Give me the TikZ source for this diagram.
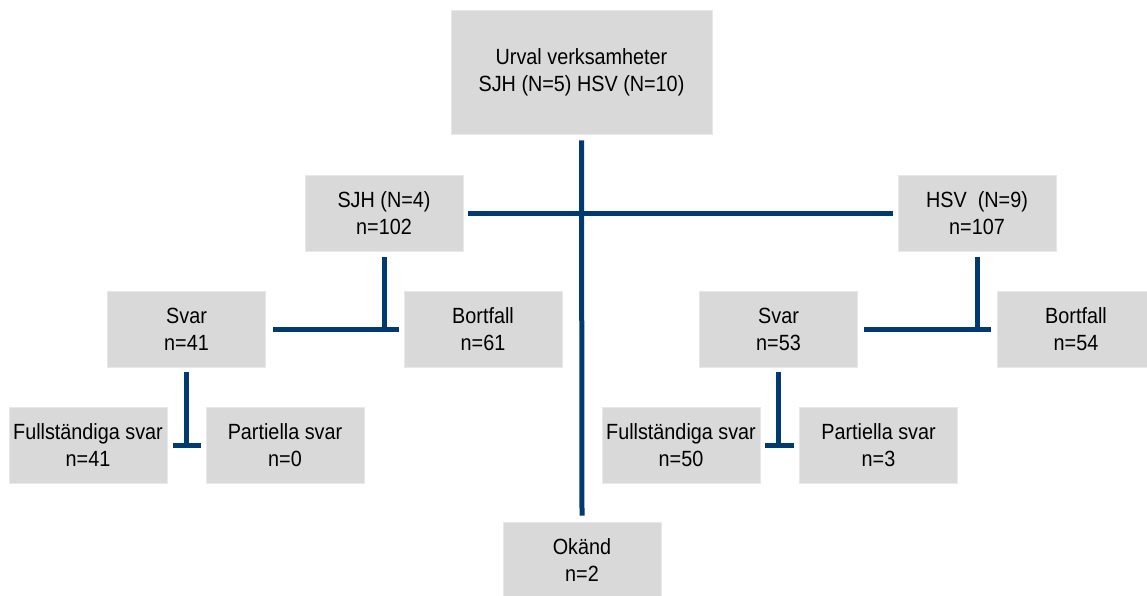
\documentclass[tikz,border=0pt]{standalone}
\usepackage{fontspec}
\setmainfont[FakeStretch=0.9]{Liberation Sans}
\usetikzlibrary{calc}
\definecolor{marin}{RGB}{0,58,112}
\definecolor{boksgraa}{RGB}{217,217,217}
\tikzset{
  boks/.style = {fill = boksgraa, draw = boksgraa!60!white, line width = .8pt,
    align = center, inner sep = 0pt, minimum width = 158pt, minimum height = 76pt,
    font = \fontsize{22}{27}\selectfont},
  linje/.style = {draw = marin, line width = 5pt}
}
\begin{document}
\begin{tikzpicture}[x = 1pt, y = -1pt]
  \useasboundingbox (0, 0) rectangle (1147, 595);
  \clip (0, 0) rectangle (1147, 595);
  % boksar
  \node[boks, minimum width = 261pt, minimum height = 124pt] (urval) at (581.5, 72) {Urval verksamheter\\SJH (N=5) HSV (N=10)};
  \node[boks] (sjh) at (384, 213) {SJH (N=4)\\n=102};
  \node[boks] (hsv) at (977, 213) {HSV\ \ (N=9)\\n=107};
  \node[boks] (svarS) at (186.5, 329) {Svar\\n=41};
  \node[boks] (bortS) at (483, 329) {Bortfall\\n=61};
  \node[boks] (svarH) at (778.5, 329) {Svar\\n=53};
  \node[boks] (bortH) at (1076, 329) {Bortfall\\n=54};
  \node[boks] (fullS) at (88, 445) {Fullständiga svar\\n=41};
  \node[boks] (partS) at (285, 445) {Partiella svar\\n=0};
  \node[boks] (fullH) at (681, 445) {Fullständiga svar\\n=50};
  \node[boks] (partH) at (878.5, 445) {Partiella svar\\n=3};
  \node[boks] (okand) at (582, 560) {Okänd\\n=2};
  % linjer
  \draw[linje] ([yshift = -6pt]urval.south) -- ([yshift = 6pt]okand.north);
  \draw[linje] ([xshift = 5pt]sjh.east) -- ([xshift = -5pt]hsv.west);
  \draw[linje] ([xshift = 7pt]svarS.east) -- ([xshift = -5pt]bortS.west);
  \draw[linje] ([yshift = -6pt]sjh.south) -- ($(sjh.south |- svarS.east) + (0, 2.5)$);
  \draw[linje] ([xshift = 6pt]svarH.east) -- ([xshift = -6pt]bortH.west);
  \draw[linje] ([yshift = -6pt]hsv.south) -- ($(hsv.south |- svarH.east) + (0, 2.5)$);
  \draw[linje] ([xshift = 6pt]fullS.east) -- ([xshift = -5pt]partS.west);
  \draw[linje] ([yshift = -5pt]svarS.south) -- ($(svarS.south |- fullS.east) + (0, 2.5)$);
  \draw[linje] ([xshift = 5pt]fullH.east) -- ([xshift = -5pt]partH.west);
  \draw[linje] ([yshift = -5pt]svarH.south) -- ($(svarH.south |- fullH.east) + (0, 2.5)$);
\end{tikzpicture}
\end{document}
